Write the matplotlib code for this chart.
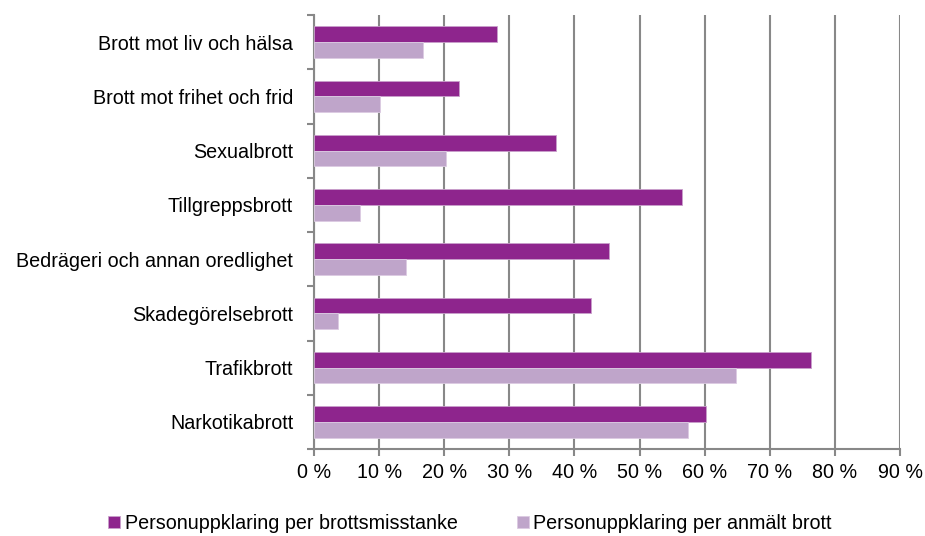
import numpy as np
import matplotlib.pyplot as plt

plt.rcParams['font.family'] = ['Liberation Sans', 'DejaVu Sans']

categories = ['Brott mot liv och hälsa', 'Brott mot frihet och frid', 'Sexualbrott',
              'Tillgreppsbrott', 'Bedrägeri och annan oredlighet', 'Skadegörelsebrott',
              'Trafikbrott', 'Narkotikabrott']
per_misstanke = [28.1, 22.2, 37.1, 56.5, 45.3, 42.5, 76.3, 60.2]
per_anmalt = [16.7, 10.1, 20.3, 7.0, 14.1, 3.7, 64.8, 57.4]
xticks = list(range(0, 100, 10))

dark = '#8E258D'
light = '#BFA5CA'
grid_col = '#888888'
fs = 14.2

fig = plt.figure(figsize=(9.25, 5.36), dpi=100)
ax = fig.add_axes([314 / 925, 1 - 449 / 536, 586 / 925, 434 / 536])

y = np.arange(len(categories))
h = 0.29
ax.barh(y - h / 2, per_misstanke, height=h, color=dark, edgecolor='#C9A0CB', linewidth=0.6,
        label='Personuppklaring per brottsmisstanke', zorder=3)
ax.barh(y + h / 2, per_anmalt, height=h, color=light, edgecolor='#DCCBE2', linewidth=0.6,
        label='Personuppklaring per anmält brott', zorder=3)

ax.set_xlim(0, 90)
ax.set_ylim(len(categories) - 0.5, -0.5)
ax.set_xticks(xticks)
ax.set_xticklabels([f'{t} %' for t in xticks], fontsize=fs)
ax.set_yticks(y)
ax.set_yticklabels(categories, fontsize=fs)
ax.set_yticks(np.arange(len(categories) + 1) - 0.5, minor=True)

ax.tick_params(axis='y', which='major', length=0, pad=15)
ax.tick_params(axis='y', which='minor', length=5, width=1.5, color=grid_col)
ax.tick_params(axis='x', length=5, width=1.5, color=grid_col, pad=5)

ax.xaxis.grid(True, color=grid_col, linewidth=1.5, zorder=0)
for s in ['top', 'right']:
    ax.spines[s].set_visible(False)
for s in ['left', 'bottom']:
    ax.spines[s].set_color(grid_col)
    ax.spines[s].set_linewidth(1.5)

fig.legend(loc='lower center', bbox_to_anchor=(0.508, -0.027), ncol=2, frameon=False,
           fontsize=fs, handlelength=0.6, handleheight=0.6, handletextpad=0.25,
           columnspacing=3.0)

fig.savefig('out.png', dpi=100)
